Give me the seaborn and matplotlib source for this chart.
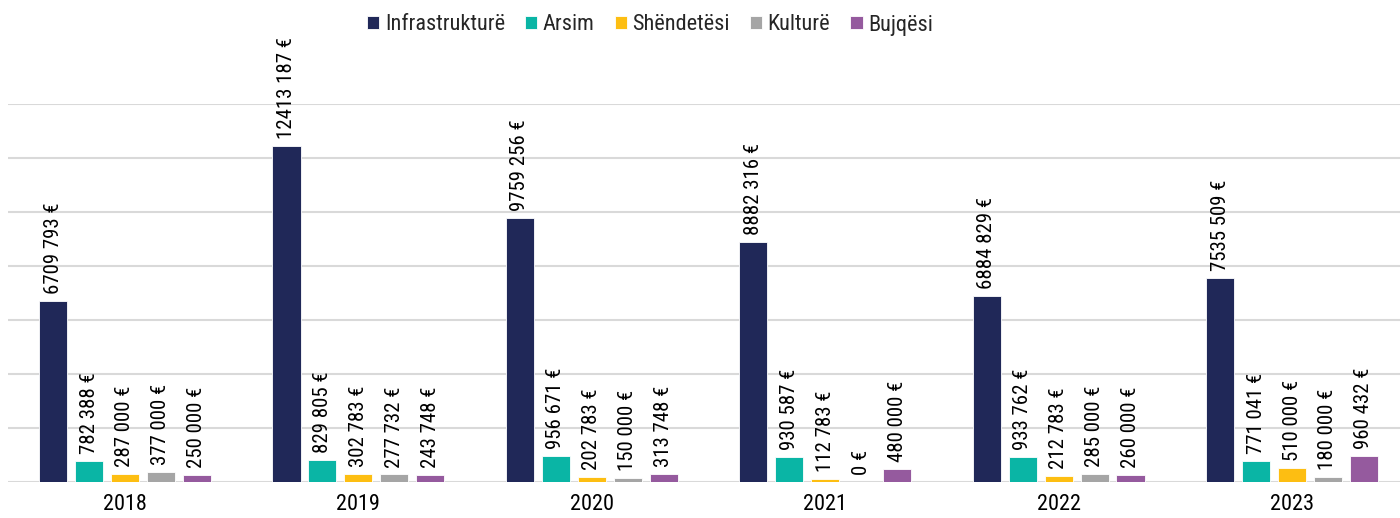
import matplotlib
matplotlib.use("Agg")
import matplotlib.pyplot as plt
import seaborn as sns
import pandas as pd
from matplotlib import font_manager

years = ["2018", "2019", "2020", "2021", "2022", "2023"]
categories = ["Infrastrukturë", "Arsim", "Shëndetësi", "Kulturë", "Bujqësi"]
infrastruktura = [6709793, 12413187, 9759256, 8882316, 6884829, 7535509]
arsim = [782388, 829805, 956671, 930587, 933762, 771041]
shendetesi = [287000, 302783, 202783, 112783, 212783, 510000]
kultura = [377000, 277732, 150000, 0, 285000, 180000]
bujqesi = [250000, 243748, 313748, 480000, 260000, 960432]
colors = ["#202858", "#0AB5A5", "#FDBE12", "#A5A5A5", "#955A9E"]

series = [infrastruktura, arsim, shendetesi, kultura, bujqesi]
rows = []
for cat, vals in zip(categories, series):
    for y, v in zip(years, vals):
        rows.append({"Viti": y, "Kategoria": cat, "Vlera": v})
df = pd.DataFrame(rows)

sns.set_theme(style="white")
names = {f.name for f in font_manager.fontManager.ttflist}
fam = [f for f in ["Liberation Sans Narrow", "Roboto Condensed", "DejaVu Sans Condensed", "Roboto"] if f in names]
plt.rcParams["font.family"] = fam + ["DejaVu Sans"]


def fmt(v):
    if v >= 1000:
        return f"{v // 1000} {v % 1000:03d} €"
    return f"{v} €"


fig = plt.figure(figsize=(14, 5.18), dpi=100)
ax = fig.add_axes([8.3 / 1400, 36 / 518, 1400.4 / 1400, 378.5 / 518])

sns.barplot(data=df, x="Viti", y="Vlera", hue="Kategoria", hue_order=categories,
            order=years, palette=colors, saturation=1, width=0.77, gap=0.22, ax=ax,
            edgecolor="white", linewidth=0.6, legend=True)

ax.set_ylim(0, 14e6)
ax.set_xlim(-0.5, 5.5)
ax.set_yticks([i * 2e6 for i in range(8)])
ax.yaxis.grid(True, color="#D9D9D9", linewidth=1.5)
ax.set_axisbelow(True)
ax.set_yticklabels([])
ax.tick_params(axis="both", length=0)
ax.tick_params(axis="x", labelsize=16, pad=9, colors="black")
ax.set_xlabel("")
ax.set_ylabel("")
for s in ax.spines.values():
    s.set_visible(False)

for cont, vals in zip(ax.containers, series):
    labels = [fmt(v) for v in vals]
    ax.bar_label(cont, labels=labels, rotation=90, padding=5, fontsize=15,
                 color="black", clip_on=False)

handles, labs = ax.get_legend_handles_labels()
ax.legend_.remove()
fig.legend(handles, labs, loc="center", bbox_to_anchor=(650 / 1400, 1 - 25 / 518),
           ncol=5, frameon=False, fontsize=16, handlelength=0.55, handleheight=0.55,
           handletextpad=0.25, columnspacing=0.9)

fig.savefig("out.png", dpi=100)
